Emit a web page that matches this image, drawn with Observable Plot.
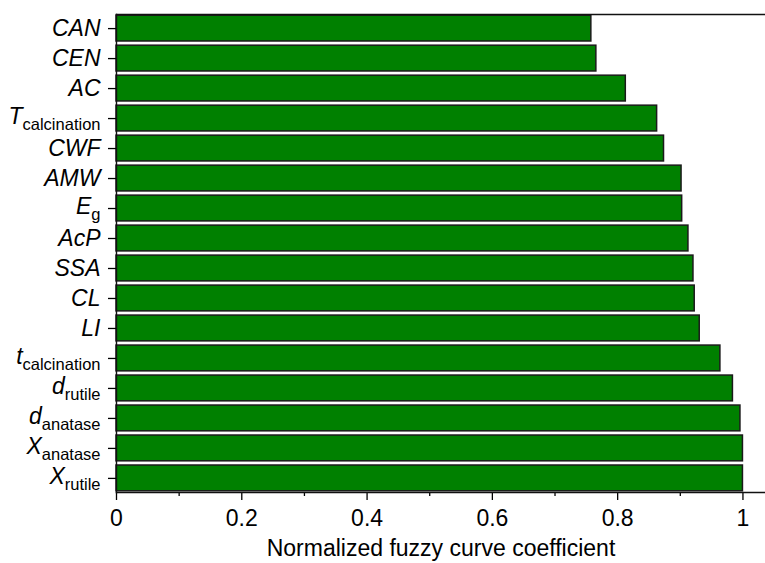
<!DOCTYPE html>
<html>
<head>
<meta charset="utf-8">
<script src="https://cdn.jsdelivr.net/npm/d3@7"></script>
<script src="https://cdn.jsdelivr.net/npm/@observablehq/plot@0.6"></script>
<style>
  html, body { margin: 0; padding: 0; background: white; }
</style>
</head>
<body>
<div id="chart"></div>
<script>
// Categories (top to bottom); "_" separates main symbol from subscript
const categories = ["CAN", "CEN", "AC", "T_calcination", "CWF", "AMW", "E_g", "AcP",
  "SSA", "CL", "LI", "t_calcination", "d_rutile", "d_anatase", "X_anatase", "X_rutile"];
const values = [0.758, 0.766, 0.813, 0.863, 0.874, 0.902, 0.903, 0.913,
  0.921, 0.923, 0.931, 0.964, 0.984, 0.996, 1.0, 1.0];
const xTicks = [0, 0.2, 0.4, 0.6, 0.8, 1];
const xMinorTicks = [0.1, 0.3, 0.5, 0.7, 0.9];
const xLabel = "Normalized fuzzy curve coefficient";

const data = categories.map((c, i) => ({label: c, value: values[i]}));
const font = "'Liberation Sans', Arial, sans-serif";

const chart = Plot.plot({
  width: 765,
  height: 563,
  marginLeft: 116,
  marginRight: 0,
  marginTop: 14,
  marginBottom: 71,
  style: {fontFamily: font, fontSize: "22px", background: "white", color: "black", overflow: "visible"},
  x: {domain: [0, 1.036]},
  y: {domain: categories, paddingInner: 0.14, paddingOuter: 0.04, round: false},
  marks: [
    Plot.barX(data, {x: "value", y: "label", fill: "#008000", stroke: "#1a1a1a", strokeWidth: 1.5}),
    Plot.axisX({ticks: xTicks, tickFormat: d => String(d), tickSize: 8, tickPadding: 9, fontSize: 23, strokeWidth: 1.3, label: null}),
    Plot.axisX({ticks: xMinorTicks, tickFormat: () => "", tickSize: 4, strokeWidth: 1.3, label: null}),
    Plot.axisY({tickSize: 8, tickPadding: 8, fontSize: 23, strokeWidth: 1.3, label: null}),
    Plot.frame({anchor: "top", stroke: "#111", strokeWidth: 1.4}),
    Plot.frame({anchor: "left", stroke: "#111", strokeWidth: 1.4}),
    Plot.frame({anchor: "bottom", stroke: "#111", strokeWidth: 1.4}),
    Plot.text([xLabel], {frameAnchor: "bottom", dy: 63, fontSize: 23, text: d => d})
  ]
});

document.getElementById("chart").appendChild(chart);

// Render y labels: italic main symbol with upright subscript
const catSet = new Set(categories);
d3.select(chart).selectAll("text").each(function() {
  const t = this.textContent;
  if (!catSet.has(t)) return;
  const sel = d3.select(this);
  const [main, sub] = t.split("_");
  sel.text(null);
  if (sub) {
    sel.append("tspan").attr("dy", "-2").style("font-style", "italic").attr("font-size", 23).text(main);
    sel.append("tspan").attr("dy", "6").style("font-style", "normal").attr("font-size", 16.5).text(sub);
  } else {
    sel.append("tspan").style("font-style", "italic").text(main);
  }
});
</script>
</body>
</html>
